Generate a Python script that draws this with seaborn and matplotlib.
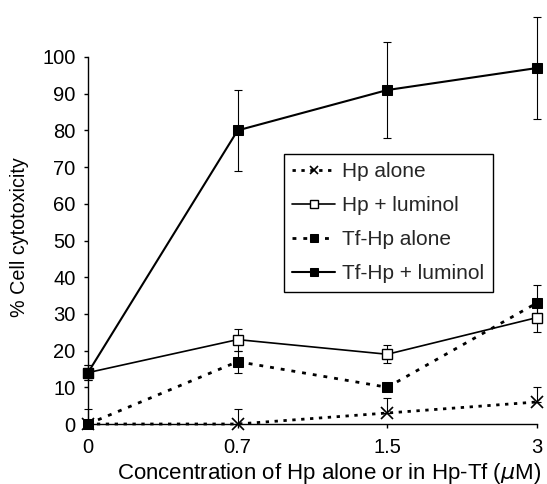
import matplotlib
matplotlib.use("Agg")
import matplotlib.pyplot as plt
import seaborn as sns
import numpy as np
from matplotlib.patches import Rectangle

concentrations = ["0", "0.7", "1.5", "3"]
series_names = ["Hp alone", "Hp + luminol", "Tf-Hp alone", "Tf-Hp + luminol"]
hp_alone = [0, 0, 3, 6]
hp_alone_err_low = [0, 0, 0, 0]
hp_alone_err_up = [4, 4, 4, 4]
hp_lum = [14, 23, 19, 29]
hp_lum_err_low = [2, 3, 2.5, 4]
hp_lum_err_up = [2, 3, 2.5, 4]
tfhp_alone = [0, 17, 10, 33]
tfhp_alone_err_low = [0, 3, 0, 5]
tfhp_alone_err_up = [0, 3, 0, 5]
tfhp_lum = [14, 80, 91, 97]
tfhp_lum_err_low = [2, 11, 13, 14]
tfhp_lum_err_up = [2, 11, 13, 14]
yticks = list(range(0, 101, 10))

sns.set_theme(style="ticks")
plt.rcParams["font.family"] = ["Liberation Sans", "DejaVu Sans"]

W, H = 547, 484
fig = plt.figure(figsize=(W / 100, H / 100), dpi=100)
x0, x1 = 88, 537
y0, ytop_px = 424, 15
ppu = (424 - 57) / 100.0
ytop = (y0 - ytop_px) / ppu
ax = fig.add_axes([x0 / W, 1 - y0 / H, (x1 - x0) / W, (y0 - ytop_px) / H])

xpos = np.arange(len(concentrations))

styles = [
    (hp_alone, [hp_alone_err_low, hp_alone_err_up],
     dict(linestyle=(0, (1.2, 2.0)), linewidth=2.0, marker="x", markersize=8,
          markeredgewidth=1.2, markeredgecolor="black", color="black")),
    (hp_lum, [hp_lum_err_low, hp_lum_err_up],
     dict(linestyle="-", linewidth=1.2, marker="s", markersize=7,
          markerfacecolor="white", markeredgecolor="black", markeredgewidth=1.0, color="black")),
    (tfhp_alone, [tfhp_alone_err_low, tfhp_alone_err_up],
     dict(linestyle=(0, (1.4, 2.5)), linewidth=2.0, marker="s", markersize=7.5,
          markerfacecolor="black", markeredgecolor="black", color="black")),
    (tfhp_lum, [tfhp_lum_err_low, tfhp_lum_err_up],
     dict(linestyle="-", linewidth=1.5, marker="s", markersize=7.5,
          markerfacecolor="black", markeredgecolor="black", color="black")),
]

clip = Rectangle((-0.05, 0), 1.1, 1.0, transform=ax.transAxes, visible=False)
ax.add_patch(clip)

for name, (vals, errs, st) in zip(series_names, styles):
    eb = ax.errorbar(xpos, vals, yerr=np.array(errs), fmt="none", ecolor="black", elinewidth=0.8,
                     capsize=3, capthick=0.8, zorder=2)
    for art in list(eb.lines[1]) + list(eb.lines[2]):
        art.set_clip_on(True)
        art.set_clip_path(clip)
    sns.lineplot(x=xpos, y=vals, ax=ax, label=name, clip_on=False, zorder=3, **st)

fs_tick = 14.5
ax.set_xlim(0, 3)
ax.set_ylim(0, ytop)
ax.set_xticks(xpos)
ax.set_xticklabels(concentrations)
ax.set_yticks(yticks)
ax.spines["top"].set_visible(False)
ax.spines["right"].set_visible(False)
ax.spines["left"].set_bounds(0, 100)
for sp in ["left", "bottom"]:
    ax.spines[sp].set_color("black")
    ax.spines[sp].set_linewidth(1.0)
ax.tick_params(axis="both", colors="black", labelsize=fs_tick, length=3, width=1.0, direction="out")
ax.tick_params(axis="x", pad=7)
ax.tick_params(axis="y", pad=6)

ylab = ax.set_ylabel("% Cell cytotoxicity", fontsize=14.3, color="black")
ax.yaxis.set_label_coords((20 - x0) / (x1 - x0), (y0 - 237) / (y0 - ytop_px))
ylab.set_va("center"); ylab.set_ha("center")
xlab = ax.set_xlabel(r"Concentration of Hp alone or in Hp-Tf ($\mu$M)", fontsize=14.5, color="black")
ax.xaxis.set_label_coords((329.5 - x0) / (x1 - x0), (y0 - 473) / (y0 - ytop_px))
xlab.set_va("center"); xlab.set_ha("center")

# fit label sizes to the reference text extents
fig.canvas.draw()
r = fig.canvas.get_renderer()
wx = xlab.get_window_extent(r).width
xlab.set_fontsize(xlab.get_fontsize() * 425 / wx)
hy = ylab.get_window_extent(r).height
ylab.set_fontsize(ylab.get_fontsize() * 160 / hy)

leg = ax.legend(loc="upper left", bbox_to_anchor=((284 - x0) / (x1 - x0), (y0 - 154) / (y0 - ytop_px)),
                borderaxespad=0, frameon=True, fancybox=False, edgecolor="black", fontsize=15,
                handlelength=2.05, handletextpad=0.35, borderpad=0.4, labelspacing=0.72,
                markerscale=0.8)
leg.get_frame().set_linewidth(1.0)
leg.get_frame().set_alpha(1)

fig.savefig("out.png", dpi=100)
